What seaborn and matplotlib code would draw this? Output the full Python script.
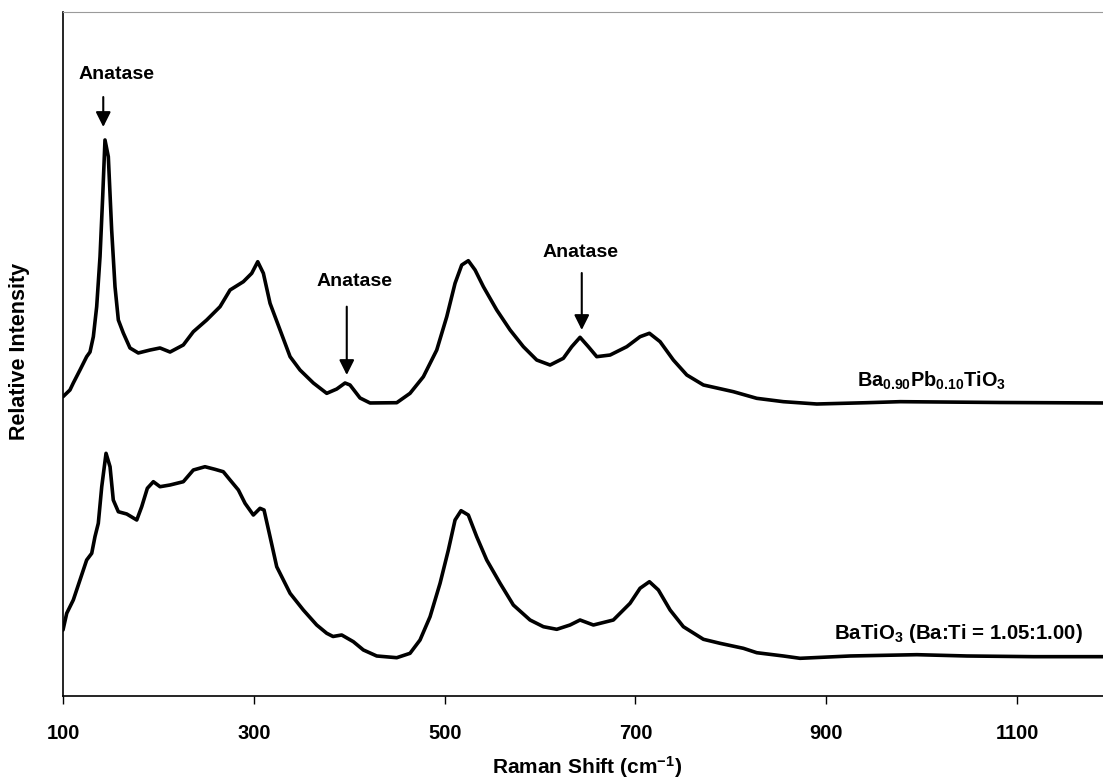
import matplotlib
matplotlib.use("Agg")
import matplotlib.pyplot as plt
import seaborn as sns
import pandas as pd

# ---- data (Raman shift in cm^-1, relative intensity in arbitrary units) ----
shift_top = [100, 107.3, 110.8, 117.8, 124.8, 128.3, 131.8, 135.3, 138.8, 141.6,
             144.0, 147.5, 151.0, 154.5, 158.0, 163.2, 170.2, 178.9, 191.2, 201.7,
             212.2, 226.1, 236.6, 250.6, 264.6, 275.1, 289.0, 297.8, 304.1, 310.0,
             317.0, 327.5, 338.0, 348.4, 362.4, 376.4, 386.9, 395.6, 400.8, 411.3,
             421.8, 449.8, 463.7, 477.7, 491.7, 502.2, 510.9, 517.9, 524.8, 531.9,
             540.6, 554.6, 568.6, 582.5, 596.5, 610.5, 624.4, 633.2, 641.9, 650.6,
             659.4, 673.4, 690.9, 704.8, 714.6, 725.8, 739.7, 753.8, 771.2, 802.6,
             827.1, 855.0, 890.0, 942.5, 977.4, 1082, 1190]
int_top = [43.76, 44.74, 45.76, 47.66, 49.61, 50.29, 52.53, 56.92, 64.23, 73.0,
           81.29, 78.85, 68.13, 59.84, 54.97, 53.07, 50.88, 50.15, 50.58, 50.88,
           50.29, 51.32, 53.26, 54.97, 56.92, 59.36, 60.57, 61.80, 63.49, 61.80,
           57.41, 53.51, 49.61, 47.66, 45.76, 44.25, 44.88, 45.76, 45.47, 43.57,
           42.84, 42.88, 44.25, 46.68, 50.58, 55.45, 60.34, 63.01, 63.64, 62.28,
           59.84, 56.43, 53.51, 51.07, 49.12, 48.39, 49.37, 51.07, 52.44, 51.07,
           49.61, 49.85, 51.07, 52.53, 53.03, 51.80, 49.12, 46.93, 45.47, 44.49,
           43.52, 43.03, 42.69, 42.88, 43.03, 42.91, 42.84]

shift_bot = [100, 103.9, 110.8, 117.8, 124.8, 130.1, 133.5, 137.0, 140.6, 145.1,
             149.3, 152.7, 158.0, 166.8, 177.3, 182.5, 188.4, 194.7, 201.7, 212.2,
             226.1, 236.6, 248.8, 259.3, 268.0, 275.1, 283.8, 290.8, 299.5, 306.5,
             310.7, 317.0, 324.0, 338.0, 351.9, 365.9, 376.4, 383.0, 392.1, 404.3,
             414.8, 428.8, 449.8, 463.7, 474.2, 484.7, 495.2, 503.9, 510.9, 517.2,
             524.8, 533.6, 544.1, 558.1, 572.0, 589.5, 603.5, 617.5, 631.4, 641.9,
             655.9, 676.8, 694.3, 704.8, 714.6, 724.0, 736.3, 750.2, 771.2, 788.7,
             813.1, 827.1, 855.0, 872.5, 925.0, 994.9, 1047.3, 1117.1, 1190]
int_bot = [9.65, 12.09, 14.04, 16.96, 19.88, 20.86, 23.29, 25.25, 30.60, 35.48,
           33.52, 28.65, 26.94, 26.61, 25.73, 27.68, 30.37, 31.33, 30.60, 30.85,
           31.33, 33.04, 33.52, 33.14, 32.79, 31.58, 30.12, 28.17, 26.46, 27.44,
           27.19, 23.29, 18.90, 15.01, 12.57, 10.38, 9.17, 8.70, 8.92, 7.94,
           6.73, 5.85, 5.60, 6.24, 8.19, 11.59, 16.48, 21.35, 25.73, 27.09,
           26.46, 23.29, 19.88, 16.48, 13.30, 11.11, 10.13, 9.75, 10.38, 11.11,
           10.38, 11.11, 13.55, 15.75, 16.71, 15.50, 12.57, 10.13, 8.29, 7.70,
           6.97, 6.33, 5.85, 5.51, 5.85, 6.04, 5.85, 5.75, 5.75]

series_names = [r"$\mathbf{Ba_{0.90}Pb_{0.10}TiO_3}$",
                r"$\mathbf{BaTiO_3}$ (Ba:Ti = 1.05:1.00)"]
xticks = [100, 300, 500, 700, 900, 1100]

# Anatase annotations: (peak shift, arrow tail y, arrow head y, text x, text y)
anatase_x = [142.2, 397.4, 643.7]
anatase_tail = [87.57, 56.92, 61.84]
anatase_head = [83.19, 46.93, 53.51]
anatase_tx = [155.6, 405.8, 641.9]
anatase_ty = [90.79, 60.53, 64.77]

# ---- plotting ----
sns.set_style("white")
plt.rcParams["font.family"] = ["Liberation Sans", "DejaVu Sans"]
plt.rcParams["mathtext.fontset"] = "custom"
plt.rcParams["mathtext.rm"] = "Liberation Sans"
plt.rcParams["mathtext.bf"] = "Liberation Sans:bold"
plt.rcParams["mathtext.it"] = "Liberation Sans:italic"
plt.rcParams["text.color"] = "black"
plt.rcParams["xtick.color"] = "black"
plt.rcParams["xtick.labelcolor"] = "black"

df = pd.concat([
    pd.DataFrame({"shift": shift_top, "intensity": int_top, "sample": "top"}),
    pd.DataFrame({"shift": shift_bot, "intensity": int_bot, "sample": "bottom"}),
])

fig = plt.figure(figsize=(11.03, 7.78), dpi=100)
ax = fig.add_axes([63 / 1103, 82 / 778, 1040 / 1103, 684 / 778])

sns.lineplot(data=df, x="shift", y="intensity", units="sample", estimator=None,
             sort=False, color="black", linewidth=2.6, ax=ax, legend=False)

ax.set_xlim(100, 1190)
ax.set_ylim(0, 100)
ax.set_xticks(xticks)
ax.set_xticklabels([str(t) for t in xticks], fontsize=14.5, fontweight="bold",
                   color="black")
ax.set_yticks([])
ax.tick_params(axis="x", direction="out", length=6, width=1, color="black", pad=14,
               bottom=True)
for s in ["left", "bottom"]:
    ax.spines[s].set_color("black")
    ax.spines[s].set_linewidth(1.2)
ax.spines["top"].set_color("#9a9a9a")
ax.spines["top"].set_linewidth(0.8)
ax.spines["top"].set_linestyle((0, (1, 1)))
ax.spines["right"].set_visible(False)

ax.set_xlabel("")
ax.set_ylabel("")
fig.text(587 / 1103, 1 - 767 / 778, r"Raman Shift (cm$^{\mathbf{-1}}$)",
         fontsize=15, fontweight="bold", ha="center", va="center", color="black")
fig.text(20 / 1103, 1 - 351 / 778, "Relative Intensity", rotation=90,
         fontsize=15.5, fontweight="bold", ha="center", va="center", color="black")

for px, ty, hy, tx, tty in zip(anatase_x, anatase_tail, anatase_head, anatase_tx, anatase_ty):
    ax.annotate("", xy=(px, hy), xytext=(px, ty),
                arrowprops=dict(arrowstyle="-|>,head_length=0.6,head_width=0.3",
                                color="black", lw=1.5, mutation_scale=15,
                                shrinkA=0, shrinkB=0))
    ax.text(tx, tty, "Anatase", fontsize=14, fontweight="bold",
            ha="center", va="center", color="black")

ax.text(932.3, 45.18, series_names[0], fontsize=14.3, fontweight="bold",
        ha="left", va="baseline", color="black")
ax.text(908.2, 8.29, series_names[1], fontsize=14.7, fontweight="bold",
        ha="left", va="baseline", color="black")

fig.savefig("out.png", dpi=100)
